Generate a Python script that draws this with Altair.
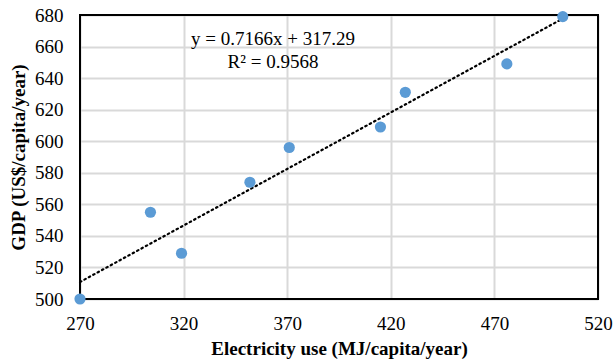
import altair as alt
import pandas as pd

electricity = [270, 304, 319, 352, 371, 415, 427, 476, 503]
gdp = [500, 555, 529, 574, 596, 609, 631, 649, 679]
slope = 0.7166
intercept = 317.29
eq_lines = ["y = 0.7166x + 317.29", "R² = 0.9568"]
x_ticks = [270, 320, 370, 420, 470, 520]
y_ticks = [500, 520, 540, 560, 580, 600, 620, 640, 660, 680]

df = pd.DataFrame({"x": electricity, "y": gdp})
trend = pd.DataFrame({"x": [min(electricity), max(electricity)]})
trend["y"] = slope * trend["x"] + intercept

xs = alt.Scale(domain=[270, 520], nice=False, zero=False)
ys = alt.Scale(domain=[500, 680], nice=False, zero=False)
xa = alt.Axis(values=x_ticks, title="Electricity use (MJ/capita/year)")
ya = alt.Axis(values=y_ticks, title="GDP (US$/capita/year)", tickCount=10)

FONT = "Liberation Serif, Times New Roman, serif"

X = alt.X("x:Q", scale=xs, axis=xa)
Y = alt.Y("y:Q", scale=ys, axis=ya)

pts = alt.Chart(df).mark_circle(size=125, color="#5B9BD5", opacity=1).encode(x=X, y=Y)

line = alt.Chart(trend).mark_line(color="black", strokeWidth=2.2, strokeDash=[1.5, 3.5],
                                   strokeCap="round").encode(x=X, y=Y)

border = alt.Chart(pd.DataFrame({"a": [0]})).mark_rect(
    fill=None, stroke="black", strokeWidth=2
).encode(x=alt.value(0), x2=alt.value(518), y=alt.value(0), y2=alt.value(284))

txt = alt.Chart(pd.DataFrame({"t": [eq_lines]})).mark_text(
    font=FONT, fontSize=19, color="black", align="center", baseline="alphabetic", lineHeight=23
).encode(x=alt.value(193), y=alt.value(30), text="t:N")

chart = alt.layer(border, line, pts, txt).properties(
    width=518, height=284, autosize="none",
    padding={"left": 80, "top": 15, "right": 15, "bottom": 65},
).configure_view(stroke=None).configure_axis(
    labelFont=FONT, titleFont=FONT, labelFontSize=19, titleFontSize=19,
    labelColor="black", titleColor="black", titleFontWeight="bold",
    grid=True, gridColor="#d9d9d9", gridWidth=2, domain=False,
    ticks=False, labelOverlap=False, labelFlush=False,
).configure_axisX(labelPadding=15, titlePadding=6).configure_axisY(labelPadding=17, titlePadding=6)

chart.save("out.html", embed_options={"renderer": "svg", "actions": False})
